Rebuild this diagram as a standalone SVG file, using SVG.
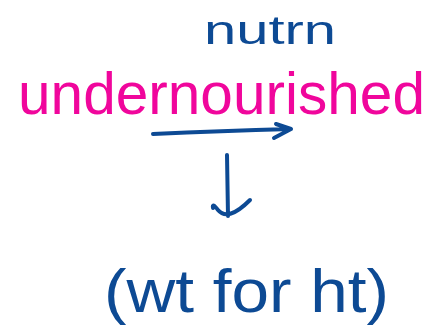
<svg xmlns="http://www.w3.org/2000/svg" width="439" height="334" viewBox="0 0 439 334">
<style>
.blue{fill:#0d4a94;font-family:"Liberation Sans",sans-serif}
.pink{fill:#f0069c;font-family:"Liberation Sans",sans-serif}
.ln{fill:none;stroke:#0d4a94;stroke-width:4;stroke-linecap:round;stroke-linejoin:round}
</style>
<rect width="439" height="334" fill="#ffffff"/>
<g id="nutrn"><text class="blue" x="204" y="44" font-size="40" textLength="132" lengthAdjust="spacingAndGlyphs">nutrn</text></g>
<g id="undernourished"><text class="pink" x="18" y="114" font-size="60" textLength="407" lengthAdjust="spacingAndGlyphs">undernourished</text></g>
<g id="wtforht"><text class="blue" x="104" y="312" font-size="62" textLength="285" lengthAdjust="spacingAndGlyphs">(wt for ht)</text></g>
<g id="connectors">
<path class="ln" d="M153,134 Q220,131 291,129 M276,124 L291,129 L274,138"/>
<path class="ln" d="M227,155 L228,216 M213,208 Q212,202 218,210 Q228,222 250,200"/>
</g>
</svg>
